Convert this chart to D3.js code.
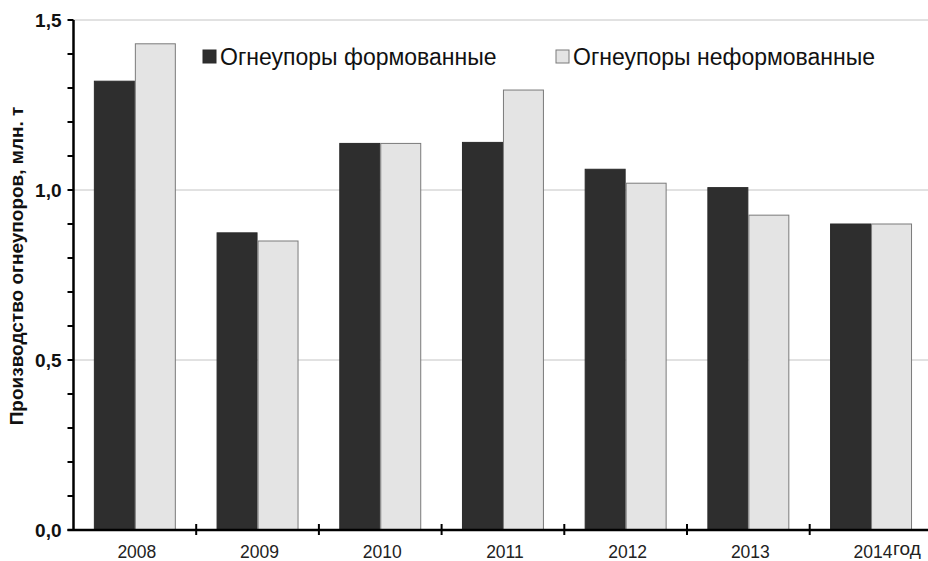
<!DOCTYPE html>
<html lang="ru">
<head>
<meta charset="UTF-8">
<title>Производство огнеупоров</title>
<style>
  body { margin: 0; background: #fff; overflow: hidden; }
  svg { display: block; font-family: Arial, "Liberation Sans", sans-serif; }
</style>
</head>
<body>
<svg id="chart" width="928" height="561"></svg>
<script src="https://cdn.jsdelivr.net/npm/d3@7"></script>
<script>
// data
const years = ["2008", "2009", "2010", "2011", "2012", "2013", "2014"];
const seriesNames = ["Огнеупоры формованные", "Огнеупоры неформованные"];
const shaped = [1.32, 0.874, 1.137, 1.14, 1.061, 1.007, 0.90];
const unshaped = [1.43, 0.85, 1.137, 1.294, 1.02, 0.926, 0.90];
const yTicks = [0, 0.5, 1.0, 1.5];
const yTickLabels = ["0,0", "0,5", "1,0", "1,5"];
const yTitle = "Производство огнеупоров, млн. т";
const xUnit = "год";

const colors = ["#2e2e2e", "#e4e4e4"];
const strokes = ["#2a2a2a", "#7a7a7a"];

const svg = d3.select("#chart");
const plotLeft = 73.5, plotBottom = 530, plotTop = 20;

// the right end of the category axis runs past the picture edge
const x = d3.scaleBand().domain(years).range([plotLeft, plotLeft + 7 * 122.7])
    .paddingInner(0.332).paddingOuter(0.166);
const xs = d3.scaleBand().domain([0, 1]).range([0, x.bandwidth()]);
const y = d3.scaleLinear().domain([0, 1.5]).range([plotBottom, plotTop]);

// gridlines
svg.append("g")
    .selectAll("line")
    .data(yTicks.slice(1))
    .join("line")
    .attr("x1", plotLeft).attr("x2", 928)
    .attr("y1", d => y(d)).attr("y2", d => y(d))
    .attr("stroke", "#c4c4c4").attr("stroke-width", 1);

// bars
const rows = years.map((yr, i) => ({ year: yr, vals: [shaped[i], unshaped[i]] }));
svg.append("g")
    .selectAll("g")
    .data(rows)
    .join("g")
    .attr("transform", d => `translate(${x(d.year)},0)`)
    .selectAll("rect")
    .data(d => d.vals.map((v, k) => ({ v, k })))
    .join("rect")
    .attr("x", d => xs(d.k) + 0.5)
    .attr("width", xs.bandwidth() - 1)
    .attr("y", d => y(d.v))
    .attr("height", d => plotBottom - y(d.v))
    .attr("fill", d => colors[d.k])
    .attr("stroke", d => strokes[d.k])
    .attr("stroke-width", 1);

// y axis
const yMinor = d3.range(0, 1.51, 0.1);
const yAxis = svg.append("g");
yAxis.append("line")
    .attr("x1", plotLeft).attr("x2", plotLeft)
    .attr("y1", plotTop).attr("y2", plotBottom + 1)
    .attr("stroke", "#000").attr("stroke-width", 2.5);
yAxis.selectAll("line.tk")
    .data(yMinor)
    .join("line")
    .attr("class", "tk")
    .attr("x1", plotLeft - 6).attr("x2", plotLeft)
    .attr("y1", d => y(d)).attr("y2", d => y(d))
    .attr("stroke", "#000").attr("stroke-width", 2);
yAxis.selectAll("text")
    .data(yTicks)
    .join("text")
    .attr("x", plotLeft - 12)
    .attr("y", d => y(d))
    .attr("dy", "0.35em")
    .attr("text-anchor", "end")
    .attr("font-size", 19)
    .attr("font-weight", "bold")
    .attr("fill", "#111")
    .text((d, i) => yTickLabels[i]);

// x axis
const xAxis = svg.append("g");
xAxis.append("line")
    .attr("x1", plotLeft - 6).attr("x2", 928)
    .attr("y1", plotBottom).attr("y2", plotBottom)
    .attr("stroke", "#000").attr("stroke-width", 2.5);
xAxis.selectAll("line.tk")
    .data(years.slice(1))
    .join("line")
    .attr("class", "tk")
    .attr("x1", d => x(d) - x.step() * x.paddingInner() / 2)
    .attr("x2", d => x(d) - x.step() * x.paddingInner() / 2)
    .attr("y1", plotBottom - 6).attr("y2", plotBottom + 5)
    .attr("stroke", "#000").attr("stroke-width", 2);
xAxis.selectAll("text")
    .data(years)
    .join("text")
    .attr("x", d => x(d) + x.bandwidth() / 2 + 2)
    .attr("y", 558)
    .attr("text-anchor", "middle")
    .attr("font-size", 17.5)
    .attr("fill", "#222")
    .text(d => d);
xAxis.append("text")
    .attr("x", 893).attr("y", 555)
    .attr("font-size", 19)
    .attr("fill", "#222")
    .text(xUnit);

// y title
svg.append("text")
    .attr("transform", "translate(23,266) rotate(-90)")
    .attr("text-anchor", "middle")
    .attr("font-size", 19)
    .attr("font-weight", "bold")
    .attr("fill", "#111")
    .text(yTitle);

// legend
const legendX = [203, 556];
const legend = svg.append("g")
    .selectAll("g")
    .data(seriesNames)
    .join("g")
    .attr("transform", (d, i) => `translate(${legendX[i]},50)`);
legend.append("rect")
    .attr("width", 13).attr("height", 13)
    .attr("fill", (d, i) => colors[i])
    .attr("stroke", (d, i) => strokes[i]);
legend.append("text")
    .attr("x", 17).attr("y", 15)
    .attr("font-size", 23)
    .attr("fill", "#111")
    .text(d => d);
</script>
</body>
</html>
